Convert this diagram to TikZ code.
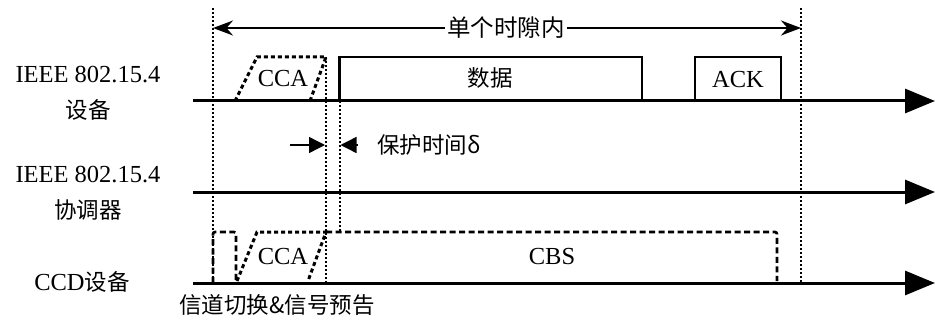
\documentclass[tikz,border=0pt]{standalone}
\usepackage{fontspec}
\setmainfont{Liberation Serif}
\newfontfamily\cjk{Noto Sans CJK SC}
\usetikzlibrary{arrows.meta}
\tikzset{
  lbl/.style={font=\fontsize{24.5}{26}\selectfont, align=center, inner sep=0pt},
  cjklbl/.style={lbl, font=\cjk\fontsize{22.5}{24}\selectfont},
  timeline/.style={line width=3pt, -{Triangle[length=30pt,width=24pt]}},
  guide/.style={line width=2pt, dash pattern=on 2pt off 2pt},
  ccabox/.style={line width=3pt, dash pattern=on 4pt off 3pt},
  databox/.style={line width=2.6pt},
  cbsbox/.style={line width=2.6pt, dash pattern=on 6pt off 3.5pt, rounded corners=2pt},
  span/.style={line width=1.8pt, {Stealth[length=20pt,width=15pt]}-{Stealth[length=20pt,width=15pt]}},
  guard/.style={line width=1.4pt, -{Triangle[length=16pt,width=16pt]}}
}
\begin{document}
\begin{tikzpicture}[x=1pt,y=-1pt]
\useasboundingbox (0,0) rectangle (935,329);
% timelines
\coordinate (t1s) at (193,101); \coordinate (t1e) at (935,101);
\coordinate (t2s) at (193,192); \coordinate (t2e) at (935,192);
\coordinate (t3s) at (193,283); \coordinate (t3e) at (935,283);
\draw[timeline] (t1s) -- (t1e);
\draw[timeline] (t2s) -- (t2e);
\draw[timeline] (t3s) -- (t3e);
% guide lines
\coordinate (gLtop) at (213,8); \coordinate (gLbot) at (213,283);
\coordinate (gRtop) at (801,8); \coordinate (gRbot) at (801,283);
\coordinate (gAtop) at (326,57); \coordinate (gAbot) at (326,283);
\coordinate (gBtop) at (339.5,101); \coordinate (gBbot) at (339.5,232);
\draw[guide] (gLtop) -- (gLbot);
\draw[guide] (gRtop) -- (gRbot);
\draw[guide] (gAtop) -- (gAbot);
\draw[guide] (gBtop) -- (gBbot);
% span arrow
\coordinate (sL) at (213,28); \coordinate (sR) at (801,28);
\draw[span] (sL) -- (sR);
\node[cjklbl, fill=white, inner xsep=2pt, font=\cjk\fontsize{23.5}{25}\selectfont] (slot) at (506,28) {单个时隙内};
% device: CCA, data, ACK
\draw[ccabox] (235,101) -- (257,57) -- (326,57) -- (310,101);
\node[lbl] (cca1) at (283,79) {CCA};
\draw[databox] (339.5,101) -- (339.5,57) -- (642,57) -- (642,101);
\node[cjklbl] (data) at (490,78) {数据};
\draw[databox] (695,101) -- (695,57) -- (781,57) -- (781,101);
\node[lbl] (ack) at (738,80) {ACK};
% guard time
\coordinate (gaL) at (290,145); \coordinate (gaR) at (358,145);
\coordinate (gaLt) at (325,145); \coordinate (gaRt) at (340.5,145);
\draw[guard] (gaL) -- (gaLt);
\draw[guard] (gaR) -- (gaRt);
\node[cjklbl, anchor=west] (guardtxt) at (377,145) {保护时间δ};
% CCD
\draw[cbsbox] (213,283) -- (213,232) -- (236,232) -- (236,283);
\draw[ccabox] (237,281) -- (257,232) -- (326,232) -- (308,281);
\node[lbl] (cca2) at (283,257) {CCA};
\draw[cbsbox] (326,232) -- (777,232) -- (777,281);
\node[lbl] (cbs) at (552,257) {CBS};
% left labels
\node[lbl] (dev1) at (88,75) {IEEE 802.15.4};
\node[cjklbl] (dev2) at (88,110) {设备};
\node[lbl] (coo1) at (88,175) {IEEE 802.15.4};
\node[cjklbl] (coo2) at (88,210) {协调器};
\node[lbl] (ccd) at (82,282) {CCD{\cjk\fontsize{22.5}{24}\selectfont 设备}};
\node[cjklbl] (sw) at (277,305) {信道切换\&信号预告};
\end{tikzpicture}
\end{document}
